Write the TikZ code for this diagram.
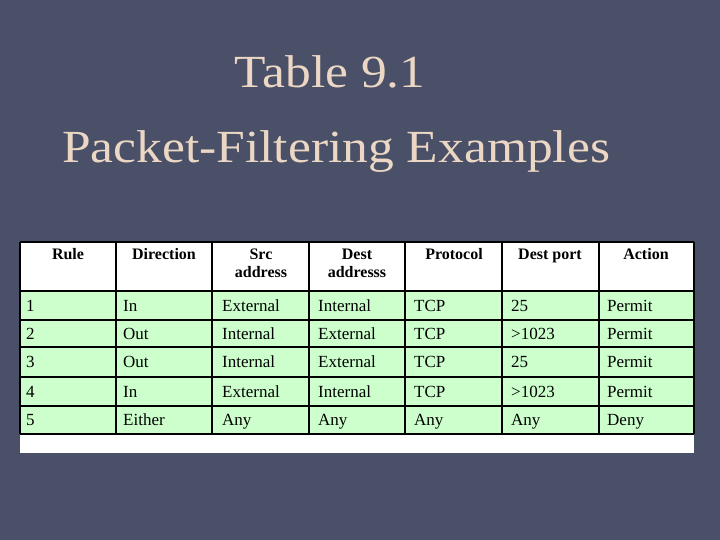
\documentclass[tikz,border=0pt]{standalone}
\usepackage{fontspec}
\setmainfont{Liberation Serif}
\definecolor{bg}{RGB}{74,80,104}
\definecolor{title}{RGB}{235,215,195}
\definecolor{cellg}{RGB}{204,255,204}
\begin{document}
\begin{tikzpicture}[x=1pt,y=-1pt,
  hd/.style={font=\fontsize{16}{18}\selectfont\bfseries,align=center,anchor=north},
  cl/.style={font=\fontsize{17}{18}\selectfont,anchor=base west,inner sep=0pt},
  tt/.style={font=\fontsize{46}{50}\selectfont,text=title,anchor=base,xscale=1.12}]
\fill[bg] (0,0) rectangle (720,540);
\useasboundingbox (0,0) rectangle (720,540);
\node[tt] (t1) at (330,88) {Table 9.1};
\node[tt] (t2) at (336,163) {Packet-Filtering Examples};
\fill[white] (20,242) rectangle (694,453);
\fill[cellg] (20,291) rectangle (694,434);
\foreach \x in {20,116,212,309,405,502,599,694} \draw[line width=1.2pt] (\x,242) -- (\x,434);
\foreach \y in {242,291,320,347,377,406,434} \draw[line width=1.2pt] (20,\y) -- (694,\y);
\node[hd] (h1) at (68,245) {Rule};
\node[hd] (h2) at (164,245) {Direction};
\node[hd] (h3) at (261,245) {Src\\address};
\node[hd] (h4) at (357,245) {Dest\\addresss};
\node[hd] (h5) at (454,245) {Protocol};
\node[hd] (h6) at (550,245) {Dest port};
\node[hd] (h7) at (646,245) {Action};
\foreach \r/\y/\a/\b/\c/\d/\e/\f/\g in {
 1/311/1/In/External/Internal/TCP/25/Permit,
 2/339/2/Out/Internal/External/TCP/>1023/Permit,
 3/367/3/Out/Internal/External/TCP/25/Permit,
 4/397/4/In/External/Internal/TCP/>1023/Permit,
 5/425/5/Either/Any/Any/Any/Any/Deny}{
 \node[cl] (c\r a) at (26,\y) {\a};
 \node[cl] (c\r b) at (123,\y) {\b};
 \node[cl] (c\r c) at (222,\y) {\c};
 \node[cl] (c\r d) at (318,\y) {\d};
 \node[cl] (c\r e) at (414,\y) {\e};
 \node[cl] (c\r f) at (511,\y) {\f};
 \node[cl] (c\r g) at (607,\y) {\g};
}
\end{tikzpicture}
\end{document}
